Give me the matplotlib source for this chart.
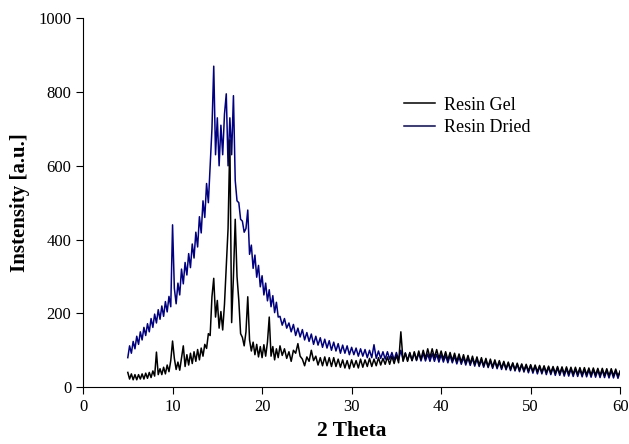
import numpy as np
import matplotlib
matplotlib.use('Agg')
from matplotlib import pyplot as plt

plt.rcParams['font.family'] = ['Liberation Serif', 'DejaVu Serif']

# 2 theta scan grid (fine part / coarse part)
theta_a = np.round(np.arange(5.0, 21.81, 0.2), 2)
theta_b = np.round(np.arange(22.0, 60.01, 0.25), 2)

# Resin Dried (blue)
dried_a = [80, 112, 92, 124, 104, 138, 116, 150, 128, 162,
           140, 172, 150, 186, 162, 198, 174, 210, 184, 220,
           192, 232, 204, 246, 218, 440, 268, 226, 282, 250,
           320, 280, 338, 304, 362, 324, 388, 350, 420, 380,
           462, 418, 505, 460, 552, 500, 600, 700, 870, 630,
           730, 600, 710, 630, 740, 795, 600, 730, 630, 790,
           560, 505, 500, 455, 450, 420, 430, 480, 360, 385,
           322, 358, 298, 330, 272, 302, 250, 282, 234, 264,
           218, 248, 202, 230, 190]
dried_b = [192, 168, 186, 160, 174, 150, 170, 140,
           160, 136, 156, 128, 148, 124, 144, 116,
           138, 114, 134, 108, 130, 106, 126, 100,
           122, 98, 118, 92, 114, 92, 112, 88,
           108, 88, 106, 84, 104, 84, 102, 80,
           100, 80, 115, 78, 98, 78, 96, 76,
           96, 76, 94, 74, 94, 74, 100, 73,
           93, 73, 92, 72, 93, 72, 92, 71,
           92, 71, 90, 70, 91, 70, 89, 68,
           88, 68, 86, 66, 86, 66, 84, 63,
           82, 62, 80, 60, 79, 59, 78, 57,
           76, 56, 74, 54, 73, 53, 71, 51,
           70, 50, 68, 48, 67, 47, 65, 45,
           64, 44, 62, 42, 61, 41, 59, 39,
           58, 38, 57, 36, 56, 36, 55, 34,
           54, 34, 53, 32, 52, 32, 51, 30,
           50, 30, 49, 29, 49, 29, 48, 28,
           48, 28, 47, 27, 47, 27, 46, 26,
           46, 26, 45, 25, 45, 25, 44, 24,
           43]

# Resin Gel (black)
gel_a = [40, 22, 36, 20, 34, 20, 34, 22, 36, 22,
         38, 24, 40, 26, 44, 30, 95, 34, 50, 34,
         54, 36, 60, 42, 72, 125, 78, 48, 68, 46,
         80, 112, 56, 88, 60, 92, 64, 96, 70, 102,
         74, 106, 84, 116, 105, 145, 140, 245, 295, 190,
         235, 160, 205, 155, 225, 330, 430, 670, 175, 300,
         455, 300, 235, 145, 135, 112, 150, 245, 128, 98,
         122, 88, 116, 82, 110, 80, 115, 84, 122, 190,
         84, 110, 74, 104, 80]
gel_b = [112, 86, 104, 78, 96, 70, 100, 92,
         118, 84, 76, 58, 82, 70, 100, 72,
         84, 60, 80, 58, 82, 58, 80, 56,
         80, 56, 76, 54, 74, 52, 72, 50,
         74, 54, 72, 52, 76, 54, 74, 56,
         78, 56, 76, 58, 80, 60, 78, 62,
         82, 62, 84, 64, 86, 66, 150, 70,
         92, 70, 94, 72, 96, 74, 98, 76,
         100, 78, 104, 80, 104, 80, 102, 78,
         98, 76, 96, 74, 94, 72, 92, 70,
         90, 68, 88, 66, 86, 64, 84, 62,
         82, 60, 80, 58, 78, 56, 76, 55,
         74, 54, 72, 52, 70, 50, 68, 49,
         66, 47, 65, 46, 63, 45, 62, 44,
         61, 43, 60, 42, 59, 41, 58, 40,
         57, 39, 56, 38, 56, 37, 55, 36,
         55, 36, 54, 35, 54, 35, 53, 34,
         53, 34, 52, 33, 52, 33, 51, 32,
         51, 32, 50, 31, 50, 31, 49, 30,
         44]

theta = np.concatenate([theta_a, theta_b])
dried = np.array(dried_a + dried_b)
gel = np.array(gel_a + gel_b)

fig = plt.figure(figsize=(6.29, 4.44), dpi=100)
ax = fig.add_axes([0.132, 0.128, 0.854, 0.831])

ax.plot(theta, gel, color='black', lw=1.1, label='Resin Gel', zorder=3)
ax.plot(theta, dried, color='#000080', lw=1.1, label='Resin Dried', zorder=2)

ax.set_xlim(0, 60)
ax.set_ylim(0, 1000)
ax.set_xticks([0, 10, 20, 30, 40, 50, 60])
ax.set_yticks([0, 200, 400, 600, 800, 1000])
ax.spines['top'].set_visible(False)
ax.spines['right'].set_visible(False)
ax.tick_params(direction='out', length=5, labelsize=12)

ax.set_xlabel('2 Theta', fontsize=15.5, fontweight='bold', labelpad=4)
ax.set_ylabel('Instensity [a.u.]', fontsize=15, fontweight='bold', labelpad=6)

leg = ax.legend(loc='upper left', bbox_to_anchor=(0.642, 0.782), bbox_transform=fig.transFigure,
                frameon=False, fontsize=13, handlelength=1.75, handletextpad=0.45,
                labelspacing=0.3, borderpad=0, borderaxespad=0)

fig.savefig('out.png', dpi=100)
